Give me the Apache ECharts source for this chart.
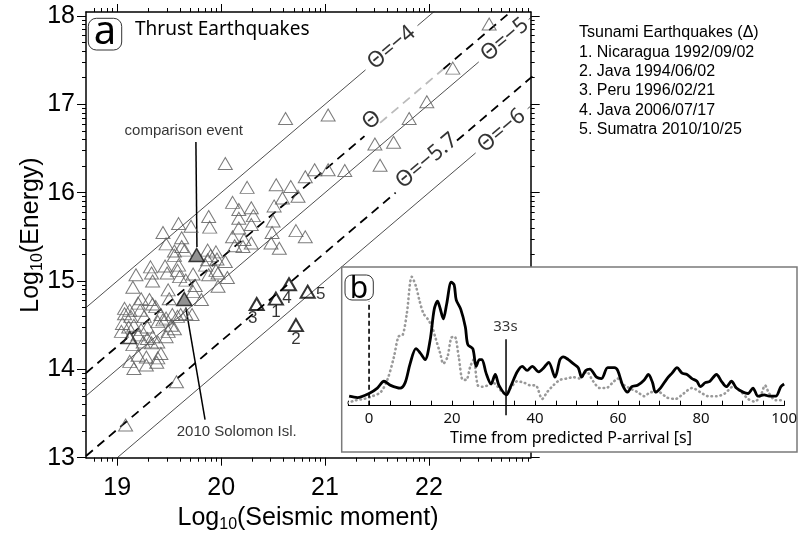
<!DOCTYPE html>
<html>
<head>
<meta charset="utf-8">
<script src="https://cdn.jsdelivr.net/npm/echarts@6/dist/echarts.min.js"></script>
<style>
  html, body { margin: 0; padding: 0; background: #fff; }
  #main { width: 800px; height: 533px; }
</style>
</head>
<body>
<div id="main"></div>
<script>
// ---- panel a : log10(moment) vs log10(energy)
const xMin = Math.log10(5e18);
const xMax = 22.98;
const yMin = 13;
const yMax = 18.045;
const xMajor = [19, 20, 21, 22];
const yMajor = [13, 14, 15, 16, 17, 18];

const thrustEvents = [
  [22.58, 17.91], [22.23, 17.41], [20.62, 16.84], [21.03, 16.88], [21.81, 16.84], [21.98, 17.03], [21.48, 16.55], [21.66, 16.57], [21.53, 16.31], [20.04, 16.33],
  [20.25, 16.06], [20.53, 16.09], [20.67, 16.07], [20.81, 16.18], [20.90, 16.26], [21.03, 16.26], [21.19, 16.25], [20.59, 15.94], [20.74, 15.96], [20.11, 15.89],
  [20.17, 15.81], [20.29, 15.83], [20.51, 15.85], [20.17, 15.71], [20.31, 15.74], [19.88, 15.73], [19.89, 15.61], [19.71, 15.62], [19.59, 15.65], [19.44, 15.55],
  [19.62, 15.49], [20.17, 15.60], [20.29, 15.64], [20.50, 15.68], [20.49, 15.55], [20.72, 15.57], [20.81, 15.50], [20.11, 15.50], [20.22, 15.47], [20.13, 15.40],
  [20.21, 15.39], [20.29, 15.43], [20.48, 15.43], [20.56, 15.37], [19.47, 15.42], [19.62, 15.39], [19.55, 15.34], [19.65, 15.35], [19.87, 15.35], [19.95, 15.33],
  [19.87, 15.24], [19.96, 15.25], [20.04, 15.22], [19.59, 15.18], [19.46, 15.17], [19.32, 15.16], [19.55, 15.29], [19.90, 15.29], [19.85, 15.18],
  [19.18, 15.07], [19.33, 15.09], [19.34, 15.00], [19.48, 15.09], [19.58, 15.12], [19.60, 15.05], [19.73, 15.08], [19.88, 15.07], [19.97, 15.09], [20.06, 15.04],
  [19.15, 14.93], [19.49, 14.90], [19.66, 15.01], [19.75, 14.95], [19.97, 14.94], [19.73, 14.88], [19.81, 14.79], [19.50, 14.80], [19.23, 14.80], [19.31, 14.79],
  [19.34, 14.74], [19.20, 14.75], [19.12, 14.67], [19.07, 14.63], [19.22, 14.67], [19.37, 14.71], [19.26, 14.60], [19.13, 14.60], [19.42, 14.62], [19.47, 14.58],
  [19.53, 14.62], [19.58, 14.60], [19.61, 14.62], [19.66, 14.63], [19.72, 14.62], [19.39, 14.54], [19.44, 14.56], [19.52, 14.50], [19.55, 14.46], [19.49, 14.43],
  [19.47, 14.37], [19.04, 14.43], [19.05, 14.52], [19.16, 14.50], [19.23, 14.45], [19.29, 14.48], [19.20, 14.39], [19.29, 14.35], [19.34, 14.37], [19.15, 14.28],
  [19.25, 14.31], [19.33, 14.30], [19.39, 14.31], [19.42, 14.18], [19.39, 14.13], [19.28, 14.14], [19.20, 14.16], [19.12, 14.09], [19.16, 14.01], [19.28, 14.05],
  [19.57, 13.86], [19.08, 13.37], [19.95, 15.12], [19.38, 14.08], [19.07, 14.69], [19.11, 14.48]
];
const darkEvent = [[19.12, 14.36]];
const tsunamiNames = ['1', '2', '3', '4', '5'];
const tsunamiEvents = [[20.527, 14.80], [20.72, 14.50], [20.342, 14.74], [20.653, 14.963], [20.833, 14.879]];
const comparisonEvent = [[19.764, 15.295]];
const solomonEvent = [[19.645, 14.797]];
const comparisonPointer = [[19.757, 16.574], [19.767, 15.385]];
const solomonPointer = [[19.66, 14.70], [19.845, 13.43]];

// theta = log10(E/M0) reference lines
const thetaSolid = [-4, -5, -6];
const thetaMean = -4.74;
const thetaLow = -5.68;

// ---- panel b : energy flux traces
const insetLabels = [0, 20, 40, 60, 80, 100];
const solidTrace = [
  [-4.8, 0.07], [-2.8, 0.06], [0, 0.09], [2, 0.13], [3.6, 0.18], [5.2, 0.15], [7.5, 0.13], [8.7, 0.17], [9.9, 0.31], [11.3, 0.42],
  [12.3, 0.39], [13.5, 0.34], [14.7, 0.48], [15.7, 0.71], [16.5, 0.77], [17.1, 0.72], [17.9, 0.64], [18.7, 0.75], [19.8, 0.91], [20.5, 0.89],
  [21, 0.78], [22.1, 0.71], [23.2, 0.58], [23.8, 0.45], [25, 0.42], [25.8, 0.29], [26.6, 0.34], [27.2, 0.34], [28.2, 0.24], [29.4, 0.16],
  [30.4, 0.23], [31.3, 0.15], [33.1, 0.08], [34.1, 0.14], [35.7, 0.25], [36.9, 0.29], [38.1, 0.26], [39.3, 0.29], [40.9, 0.25], [42.1, 0.28],
  [43.3, 0.32], [44.8, 0.21], [46, 0.34], [46.8, 0.36], [48, 0.34], [49.2, 0.31], [50.4, 0.28], [51.2, 0.21], [52.2, 0.26], [53.2, 0.27],
  [54.8, 0.21], [56, 0.2], [57.5, 0.28], [59.1, 0.28], [59.9, 0.26], [61.1, 0.15], [62.3, 0.1], [63.3, 0.14], [64.7, 0.15], [66.3, 0.19],
  [67.3, 0.23], [68.3, 0.17], [69, 0.1], [70.2, 0.13], [71.8, 0.2], [73, 0.24], [74.2, 0.28], [75.4, 0.24], [76.6, 0.23], [77.8, 0.2],
  [79, 0.18], [79.8, 0.14], [81, 0.17], [82.1, 0.18], [83.7, 0.23], [84.9, 0.18], [86.1, 0.14], [87.3, 0.18], [88.5, 0.13], [90.1, 0.1],
  [91.3, 0.09], [92.5, 0.13], [93.7, 0.07], [95.2, 0.08], [96.4, 0.07], [98, 0.07], [99.2, 0.14], [100, 0.16]
];
const dottedTrace = [
  [-5.2, 0.02], [-3.2, 0.04], [-1.2, 0.05], [0.8, 0.07], [2.8, 0.1], [4.4, 0.19], [6, 0.36], [7.1, 0.51], [8.1, 0.52], [9.1, 0.68],
  [10.3, 0.95], [11.3, 0.88], [12.1, 0.78], [13.1, 0.68], [14.1, 0.64], [15.2, 0.58], [16, 0.5], [17.1, 0.39], [17.9, 0.31], [18.9, 0.36],
  [19.8, 0.5], [20.6, 0.51], [21.6, 0.36], [22.6, 0.19], [23.4, 0.19], [24.4, 0.29], [25.2, 0.34], [26.2, 0.15], [27.4, 0.14], [28.6, 0.15],
  [29.8, 0.17], [31, 0.14], [32.1, 0.1], [32.9, 0.09], [34.1, 0.13], [35.7, 0.18], [37.3, 0.17], [38.9, 0.15], [40.1, 0.15], [41.7, 0.05],
  [42.9, 0.1], [44.4, 0.15], [46, 0.19], [47.6, 0.2], [49.2, 0.21], [50.8, 0.2], [52.4, 0.25], [54, 0.18], [55.6, 0.13], [57.1, 0.13],
  [58.7, 0.17], [59.9, 0.2], [61.1, 0.16], [62.7, 0.13], [64.7, 0.1], [66.3, 0.07], [67.9, 0.1], [69.8, 0.1], [71.8, 0.06], [73.8, 0.05],
  [75.8, 0.09], [77.8, 0.13], [79.8, 0.1], [81.7, 0.07], [83.7, 0.07], [85.7, 0.09], [87.7, 0.14], [89.7, 0.1], [91.3, 0.05], [92.9, 0.03],
  [94.4, 0.08], [95.4, 0.15], [96.4, 0.09], [98, 0.04], [100, 0.04]
];
const predictedArrival = [[0, 0], [0, 0.767]];
const durationPick = [[33, -0.07], [33, 0.49]];

const HELV = 'Liberation Sans';
const MYR = 'Noto Sans';

function logMinor(lo, hi) {
  const out = [];
  for (let d = Math.floor(lo); d <= Math.ceil(hi); d++) {
    for (let k = 2; k <= 9; k++) {
      const v = d + Math.log10(k);
      if (v > lo + 1e-6 && v < hi - 1e-6) out.push(v);
    }
  }
  return out;
}
const xMinor = logMinor(xMin, xMax);
const yMinor = logMinor(yMin, yMax);

function seg(theta, x0, x1) {
  return [[x0, x0 + theta], [x1, x1 + theta]];
}

const thin = { color: '#222', width: 0.8 };
const dash = { color: '#000', width: 1.8, type: [9, 6] };
const greyDash = { color: '#bbb', width: 1.8, type: [9, 6] };

function lineSer(data, style) {
  return {
    type: 'line', data: data, xAxisIndex: 0, yAxisIndex: 0,
    symbol: 'none', lineStyle: style, silent: true, z: 3, clip: true
  };
}

function frameAxis(dim, pos, ticks, len, withLine, withLabel) {
  const ax = {
    gridIndex: 0, type: 'value', position: pos,
    min: dim === 'x' ? xMin : yMin,
    max: dim === 'x' ? xMax : yMax,
    axisLine: { show: withLine, onZero: false, lineStyle: { color: '#000', width: 1.5 } },
    axisTick: { show: true, customValues: ticks, length: len, lineStyle: { color: '#000', width: 1 } },
    axisLabel: { show: false },
    splitLine: { show: false }
  };
  if (withLabel) {
    ax.axisLabel = {
      show: true, customValues: ticks, color: '#000', fontFamily: HELV, fontSize: 25,
      margin: dim === 'x' ? 18 : 11, formatter: v => String(Math.round(v))
    };
  }
  return ax;
}

const thetaTags = [
  { value: [21.64, 17.64], name: 'Θ=−4' },
  { value: [22.73, 17.73], name: 'Θ=−5' },
  { value: [21.98, 16.36], name: 'Θ=−5.7' },
  { value: [22.70, 16.70], name: 'Θ=−6' },
  { value: [21.45, 16.82], name: 'Θ' }
];
const numberOffsets = [[0, 14], [0, 14], [-4, 14], [-2, 14], [13, 3]];

const series = [
  // reference lines
  lineSer(seg(thetaSolid[0], xMin, 21.39), thin),
  lineSer(seg(thetaSolid[0], 21.89, 23.5), thin),
  lineSer(seg(thetaSolid[1], xMin, 22.48), thin),
  lineSer(seg(thetaSolid[1], 22.96, 23.5), thin),
  lineSer(seg(thetaSolid[2], xMin, 22.45), thin),
  lineSer(seg(thetaSolid[2], 22.95, 23.5), thin),
  lineSer(seg(thetaMean, xMin, 21.38), dash),
  lineSer(seg(thetaMean, 21.53, 22.14), greyDash),
  lineSer(seg(thetaMean, 22.14, 23.5), dash),
  lineSer(seg(thetaLow, xMin, 21.68), dash),
  lineSer(seg(thetaLow, 22.27, 23.5), dash),
  {
    type: 'scatter', xAxisIndex: 0, yAxisIndex: 0, symbol: 'triangle', symbolSize: [14, 12],
    data: thrustEvents, z: 4, silent: true,
    itemStyle: { color: 'rgba(0,0,0,0)', borderColor: '#5a5a5a', borderWidth: 1 }
  },
  {
    type: 'scatter', xAxisIndex: 0, yAxisIndex: 0, symbol: 'triangle', symbolSize: [14, 12],
    data: darkEvent, z: 4, silent: true,
    itemStyle: { color: 'rgba(0,0,0,0)', borderColor: '#222', borderWidth: 1.6 }
  },
  lineSer(comparisonPointer, { color: '#000', width: 1.5 }),
  lineSer(solomonPointer, { color: '#000', width: 1.5 }),
  {
    type: 'scatter', xAxisIndex: 0, yAxisIndex: 0, symbol: 'triangle', symbolSize: [15, 13],
    data: comparisonEvent.concat(solomonEvent), z: 5, silent: true,
    itemStyle: { color: '#777', borderColor: '#111', borderWidth: 1.5 }
  },
  {
    type: 'scatter', xAxisIndex: 0, yAxisIndex: 0, symbol: 'triangle', symbolSize: [14, 12], z: 5, silent: true,
    data: tsunamiEvents.map((p, i) => ({
      value: p, name: tsunamiNames[i],
      label: { offset: numberOffsets[i] }
    })),
    itemStyle: { color: 'rgba(0,0,0,0)', borderColor: '#000', borderWidth: 2 },
    label: {
      show: true, position: 'inside', formatter: p => p.name,
      color: '#000', fontFamily: HELV, fontSize: 17
    }
  },
  {
    type: 'scatter', xAxisIndex: 0, yAxisIndex: 0, symbolSize: 1, z: 6, silent: true,
    itemStyle: { color: 'rgba(0,0,0,0)' },
    data: thetaTags,
    label: {
      show: true, position: 'inside', rotate: 40, formatter: p => p.name,
      color: '#000', fontFamily: MYR, fontSize: 22
    }
  },
  {
    type: 'scatter', xAxisIndex: 0, yAxisIndex: 0, symbolSize: 1, z: 6, silent: true,
    itemStyle: { color: 'rgba(0,0,0,0)' },
    data: [
      { value: [19.64, 16.70], name: 'comparison event' },
      { value: [20.15, 13.29], name: '2010 Solomon Isl.' }
    ],
    label: {
      show: true, position: 'inside', formatter: p => p.name,
      color: '#000', fontFamily: HELV, fontSize: 15
    }
  },
  // inset traces
  {
    type: 'line', xAxisIndex: 4, yAxisIndex: 4, data: dottedTrace, symbol: 'none', smooth: 0.3,
    z: 60, silent: true, clip: false,
    lineStyle: { color: '#999', width: 2.6, type: [0.5, 4], cap: 'round' }
  },
  {
    type: 'line', xAxisIndex: 4, yAxisIndex: 4, data: solidTrace, symbol: 'none', smooth: 0.3,
    z: 61, silent: true, clip: false,
    lineStyle: { color: '#000', width: 2.8 }
  },
  {
    type: 'line', xAxisIndex: 4, yAxisIndex: 4, data: predictedArrival, symbol: 'none',
    z: 61, silent: true, clip: false,
    lineStyle: { color: '#000', width: 1.6, type: [5, 3] }
  },
  {
    type: 'line', xAxisIndex: 4, yAxisIndex: 4, data: durationPick, symbol: 'none',
    z: 62, silent: true, clip: false,
    lineStyle: { color: '#000', width: 1.5 }
  },
  {
    type: 'scatter', xAxisIndex: 4, yAxisIndex: 4, symbolSize: 1, z: 62, silent: true,
    itemStyle: { color: 'rgba(0,0,0,0)' },
    data: [{ value: [32.86, 0.582], name: '33s' }],
    label: { show: true, position: 'inside', formatter: p => p.name, color: '#000', fontFamily: MYR, fontSize: 15 }
  }
];

const chart = echarts.init(document.getElementById('main'));
chart.setOption({
  animation: false,
  backgroundColor: '#fff',
  grid: [
    { left: 86, top: 12, width: 444.7, height: 445.7 },
    { left: 348.3, top: 270, width: 442.4, height: 135.7 }
  ],
  xAxis: [
    frameAxis('x', 'bottom', xMajor, 8, true, true),
    frameAxis('x', 'bottom', xMinor, 4, false, false),
    frameAxis('x', 'top', xMajor, 8, true, false),
    frameAxis('x', 'top', xMinor, 4, false, false),
    {
      gridIndex: 1, type: 'value', min: -5, max: 100, interval: 5, z: 60,
      axisLine: { onZero: false, lineStyle: { color: '#000', width: 1 } },
      axisTick: { inside: true, length: 5, lineStyle: { color: '#000', width: 1 } },
      axisLabel: { customValues: insetLabels, color: '#111', fontFamily: MYR, fontSize: 15, margin: 6 },
      splitLine: { show: false }
    }
  ],
  yAxis: [
    frameAxis('y', 'left', yMajor, 9, true, true),
    frameAxis('y', 'left', yMinor, 4, false, false),
    frameAxis('y', 'right', yMajor, 9, true, false),
    frameAxis('y', 'right', yMinor, 4, false, false),
    { gridIndex: 1, type: 'value', min: 0, max: 1, show: false }
  ],
  graphic: [
    // panel a furniture
    { type: 'rect', z: 20, shape: { x: 88.3, y: 18.3, width: 33.4, height: 31.7, r: 8 },
      style: { fill: '#fff', stroke: '#333', lineWidth: 1 } },
    { type: 'text', z: 21, x: 105, y: 33,
      style: { text: 'a', fontFamily: MYR, fontSize: 40, fill: '#000', align: 'center', verticalAlign: 'middle' } },
    { type: 'text', z: 21, x: 135, y: 30,
      style: { text: 'Thrust Earthquakes', fontFamily: MYR, fontSize: 19, fill: '#000', align: 'left', verticalAlign: 'middle' } },
    { type: 'text', z: 21, x: 579, y: 23.3,
      style: {
        text: 'Tsunami Earthquakes (Δ)\n1. Nicaragua 1992/09/02\n2. Java 1994/06/02\n3. Peru 1996/02/21\n4. Java 2006/07/17\n5. Sumatra 2010/10/25',
        fontFamily: HELV, fontSize: 16, lineHeight: 19.3, fill: '#000', align: 'left', verticalAlign: 'top'
      } },
    { type: 'text', z: 21, x: 308, y: 518,
      style: {
        text: '{a|Log}{s|10}{a|(Seismic moment)}', align: 'center', verticalAlign: 'middle',
        rich: {
          a: { fontFamily: HELV, fontSize: 25, fill: '#000', lineHeight: 26 },
          s: { fontFamily: HELV, fontSize: 16, fill: '#000', lineHeight: 16, padding: [14, 0, 0, 0] }
        }
      } },
    { type: 'text', z: 21, x: 31, y: 235, rotation: Math.PI / 2,
      style: {
        text: '{a|Log}{s|10}{a|(Energy)}', align: 'center', verticalAlign: 'middle',
        rich: {
          a: { fontFamily: HELV, fontSize: 25, fill: '#000', lineHeight: 26 },
          s: { fontFamily: HELV, fontSize: 16, fill: '#000', lineHeight: 16, padding: [14, 0, 0, 0] }
        }
      } },
    // inset panel b
    { type: 'rect', z: 50, shape: { x: 341.7, y: 267, width: 455.3, height: 185 },
      style: { fill: '#fff', stroke: '#7a7a7a', lineWidth: 1.5 } },
    { type: 'rect', z: 63, shape: { x: 345, y: 275, width: 28.3, height: 25, r: 7 },
      style: { fill: '#fff', stroke: '#333', lineWidth: 1 } },
    { type: 'text', z: 64, x: 359, y: 289.5,
      style: { text: 'b', fontFamily: MYR, fontSize: 30, fill: '#000', align: 'center', verticalAlign: 'middle' } },
    { type: 'text', z: 64, x: 571, y: 438,
      style: { text: 'Time from predicted P-arrival [s]', fontFamily: MYR, fontSize: 16, fill: '#000', align: 'center', verticalAlign: 'middle' } }
  ],
  series: series
});
</script>
</body>
</html>
